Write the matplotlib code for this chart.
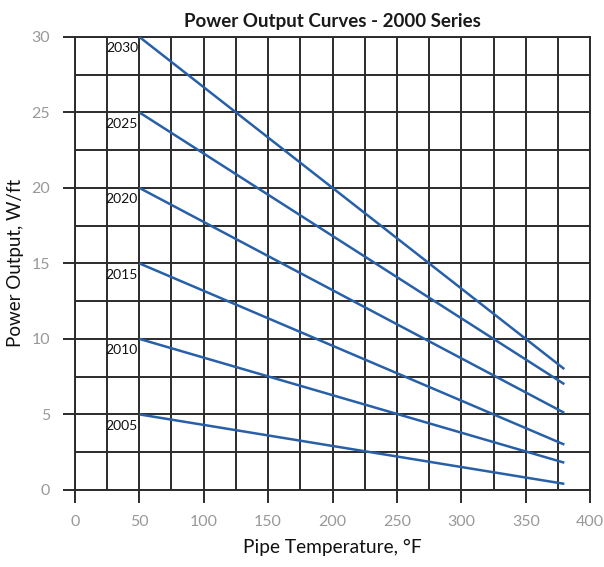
import matplotlib
matplotlib.use("Agg")
import matplotlib.pyplot as plt
from matplotlib.ticker import MultipleLocator

plt.rcParams['font.family'] = ['Lato', 'DejaVu Sans']

years = ["2005", "2010", "2015", "2020", "2025", "2030"]
x_start = 50
x_end = 380
y_start = [5, 10, 15, 20, 25, 30]
y_end = [0.4, 1.8, 3.0, 5.1, 7.0, 8.0]

fig = plt.figure(figsize=(6.04, 5.67), dpi=100)
ax = fig.add_axes([0.124, 0.136, 0.853, 0.799])

line_color = '#2860a8'
for yr, ys, ye in zip(years, y_start, y_end):
    ax.plot([x_start, x_end], [ys, ye], color=line_color, lw=1.8, zorder=3,
            solid_capstyle='butt')
    ax.text(x_start - 1, ys - 0.75, yr, ha='right', va='center', fontsize=10,
            color='#111111', zorder=4)

ax.set_xlim(0, 400)
ax.set_ylim(0, 30)
ax.xaxis.set_major_locator(MultipleLocator(50))
ax.xaxis.set_minor_locator(MultipleLocator(25))
ax.yaxis.set_major_locator(MultipleLocator(5))
ax.yaxis.set_minor_locator(MultipleLocator(2.5))

grid_c = '#2b2b2b'
ax.grid(True, which='both', color=grid_c, lw=1.4, zorder=1)
ax.set_axisbelow(True)
for s in ax.spines.values():
    s.set_color(grid_c)
    s.set_linewidth(1.4)

ax.tick_params(which='major', direction='out', length=9, width=1.4, color=grid_c,
               labelcolor='#999999', labelsize=11.5, pad=9)
ax.tick_params(which='minor', length=0)

ax.set_title("Power Output Curves - 2000 Series", fontsize=13.5, fontweight='bold',
             color='#1a1a1a', pad=7)
ax.set_xlabel("Pipe Temperature, °F", fontsize=13.8, color='#111111', labelpad=7)
ax.set_ylabel("Power Output, W/ft", fontsize=13.5, color='#111111', labelpad=5)

fig.savefig("out.png", dpi=100)
